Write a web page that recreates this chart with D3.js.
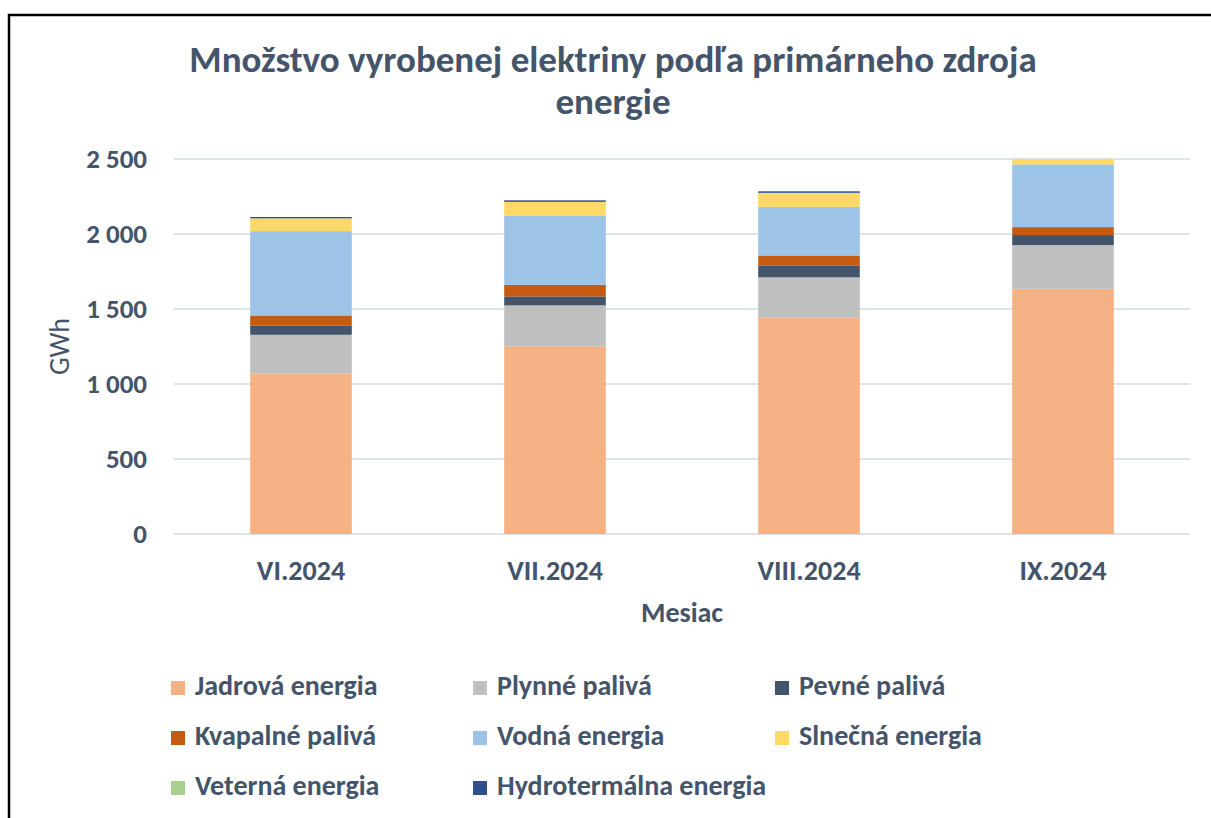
<!DOCTYPE html>
<html>
<head>
<meta charset="utf-8">
<script src="https://cdn.jsdelivr.net/npm/d3@7"></script>
<style>
  body { margin: 0; background: #fff; }
  svg text { font-family: Carlito, Lato, sans-serif; fill: #44546A; }
</style>
</head>
<body>
<div id="chart"></div>
<script>
var months = ['VI.2024', 'VII.2024', 'VIII.2024', 'IX.2024'],
    seriesNames = ['Jadrová energia', 'Plynné palivá', 'Pevné palivá',
        'Kvapalné palivá', 'Vodná energia', 'Slnečná energia',
        'Veterná energia', 'Hydrotermálna energia'],
    seriesColors = ['#F4B183', '#BFBFBF', '#44546A', '#C55A11',
        '#9DC3E6', '#FFD966', '#A9D18E', '#2F4F8A'],
    jadrova = [1071, 1251, 1442, 1635],
    plynne = [257, 273, 269, 291],
    pevne = [60, 60, 77, 67],
    kvapalne = [69, 77, 69, 53],
    vodna = [562, 460, 324, 418],
    slnecna = [85, 93, 93, 65],
    veterna = [0.5, 0.5, 0.5, 0.4],
    hydrotermalna = [9, 10, 10, 10],
    yTicks = [0, 500, 1000, 1500, 2000, 2500];

var width = 1211,
    height = 818,
    margin = {top: 159, right: 21, bottom: 284, left: 174},
    plotW = width - margin.left - margin.right,
    plotH = height - margin.top - margin.bottom;

var values = [jadrova, plynne, pevne, kvapalne, vodna, slnecna, veterna, hydrotermalna];
var rows = months.map(function(m, i) {
    var r = {month: m};
    seriesNames.forEach(function(s, j) { r[s] = values[j][i]; });
    return r;
});
var stacked = d3.stack().keys(seriesNames)(rows);

var svg = d3.select('#chart').append('svg')
    .attr('width', width)
    .attr('height', height);

// outer frame
svg.append('rect')
    .attr('x', 9).attr('y', 15)
    .attr('width', width + 20).attr('height', height + 20)
    .style('fill', 'none')
    .style('stroke', '#000')
    .style('stroke-width', 2.5);

svg.append('text')
    .attr('text-anchor', 'middle')
    .style('font-size', '37px')
    .style('font-weight', 'bold')
    .selectAll('tspan')
    .data(['Množstvo vyrobenej elektriny podľa primárneho zdroja', 'energie'])
    .enter()
    .append('tspan')
    .attr('x', 613)
    .attr('y', function(d, i) { return 72 + i * 42; })
    .text(function(d) { return d; });

var g = svg.append('g')
    .attr('transform', 'translate(' + margin.left + ',' + margin.top + ')');

var x = d3.scaleBand().domain(months).range([0, plotW]).paddingInner(0.6).paddingOuter(0.3),
    y = d3.scaleLinear().domain([0, 2500]).range([plotH, 0]);

g.append('defs').append('clipPath').attr('id', 'plotclip')
    .append('rect').attr('x', 0).attr('y', 0).attr('width', plotW).attr('height', plotH);

g.selectAll('.grid')
    .data(yTicks)
    .enter()
    .append('line')
    .attr('x1', 0).attr('x2', plotW)
    .attr('y1', function(d) { return y(d); })
    .attr('y2', function(d) { return y(d); })
    .style('stroke', '#DEE3EB')
    .style('stroke-width', 2);

g.append('g')
    .attr('clip-path', 'url(#plotclip)')
    .selectAll('g')
    .data(stacked)
    .enter()
    .append('g')
    .style('fill', function(d, i) { return seriesColors[i]; })
    .selectAll('rect')
    .data(function(d) { return d; })
    .enter()
    .append('rect')
    .attr('x', function(d) { return x(d.data.month); })
    .attr('width', x.bandwidth())
    .attr('y', function(d) { return y(d[1]); })
    .attr('height', function(d) { return y(d[0]) - y(d[1]); });

var fmt = function(v) { return d3.format(',')(v).replace(',', ' '); };

g.selectAll('.ytick')
    .data(yTicks)
    .enter()
    .append('text')
    .attr('x', -27)
    .attr('y', function(d) { return y(d); })
    .attr('dy', '0.35em')
    .attr('text-anchor', 'end')
    .style('font-size', '27px')
    .style('font-weight', 'bold')
    .text(fmt);

g.selectAll('.xtick')
    .data(months)
    .enter()
    .append('text')
    .attr('x', function(d) { return x(d) + x.bandwidth() / 2; })
    .attr('y', plotH + 46)
    .attr('text-anchor', 'middle')
    .style('font-size', '28px')
    .style('font-weight', 'bold')
    .text(function(d) { return d; });

g.append('text')
    .attr('x', plotW / 2)
    .attr('y', plotH + 88)
    .attr('text-anchor', 'middle')
    .style('font-size', '28px')
    .style('font-weight', 'bold')
    .text('Mesiac');

svg.append('text')
    .attr('transform', 'translate(69,' + (margin.top + plotH / 2) + ') rotate(-90)')
    .attr('text-anchor', 'middle')
    .style('font-size', '28px')
    .text('GWh');

// legend, 3 columns
var legend = svg.selectAll('.legend')
    .data(seriesNames)
    .enter()
    .append('g')
    .attr('transform', function(d, i) {
        return 'translate(' + (171 + (i % 3) * 302) + ',' + (695 + Math.floor(i / 3) * 50) + ')';
    });
legend.append('rect')
    .attr('x', 0).attr('y', -14)
    .attr('width', 14).attr('height', 14)
    .style('fill', function(d, i) { return seriesColors[i]; });
legend.append('text')
    .attr('x', 24)
    .attr('y', 0)
    .style('font-size', '28px')
    .style('font-weight', 'bold')
    .text(function(d) { return d; });
</script>
</body>
</html>
